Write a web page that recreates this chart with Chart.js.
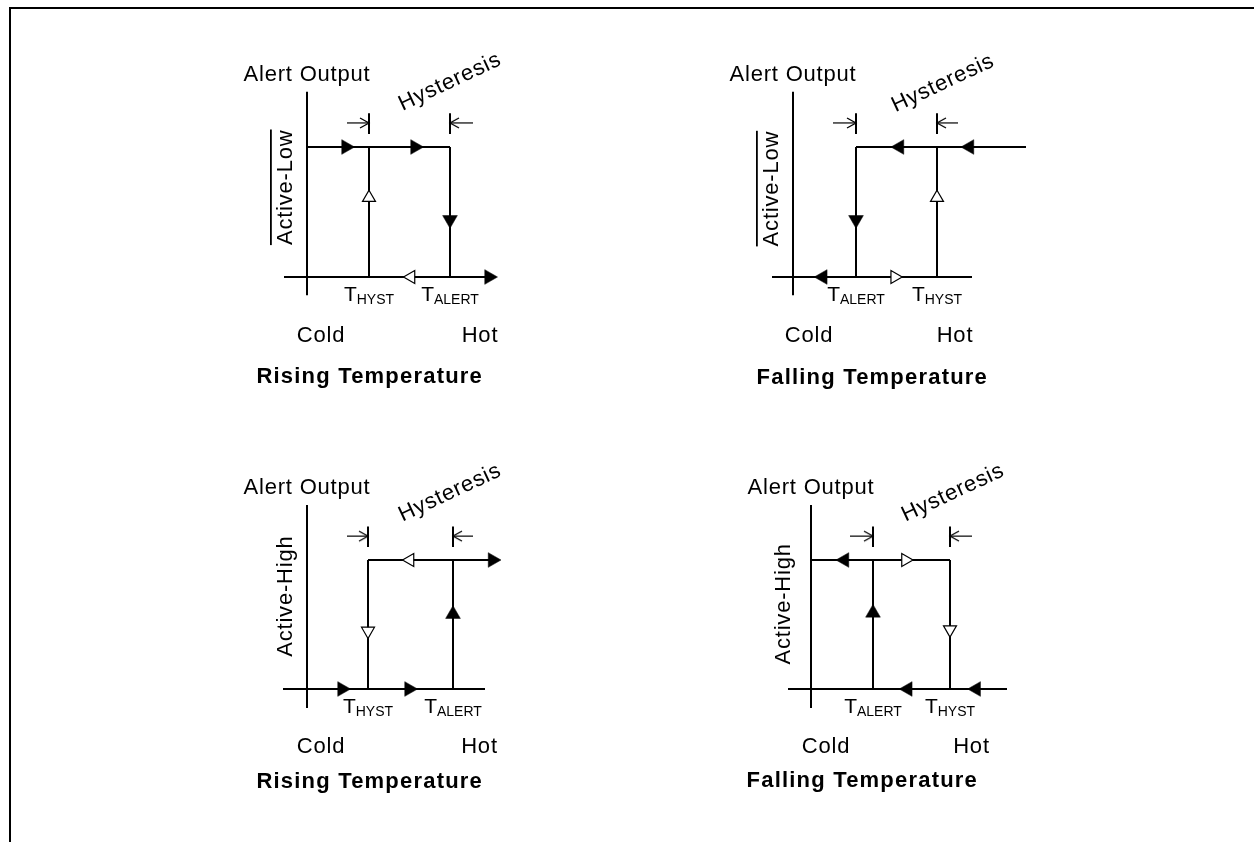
<!DOCTYPE html>
<html>
<head>
<meta charset="utf-8">
<script src="https://cdn.jsdelivr.net/npm/chart.js@4.4.1/dist/chart.umd.min.js"></script>
<style>
  html, body { margin: 0; padding: 0; background: #fff; }
  body { width: 1254px; height: 842px; position: relative; overflow: hidden; }
  #frame { position: absolute; left: 9px; top: 7px; right: -10px; bottom: -10px;
           border-top: 2px solid #000; border-left: 2px solid #000; }
  canvas { position: absolute; }
</style>
</head>
<body>
<div id="frame"></div>
<canvas id="p0"></canvas>
<canvas id="p1"></canvas>
<canvas id="p2"></canvas>
<canvas id="p3"></canvas>
<script>
// temperature axis in arbitrary units, output level 0 = low, 1 = high
const panelTitles = ["Rising Temperature", "Falling Temperature", "Rising Temperature", "Falling Temperature"];
const outputModes = ["Active-Low", "Active-Low", "Active-High", "Active-High"];
const tHyst  = [6.2, 14.4, 6.1, 13.9];
const tAlert = [14.3, 6.3, 14.6, 6.2];
const highFrom = [0, 6.3, 6.1, 0];
const highTo   = [14.3, 23.3, 18.8, 13.9];
const tempAxisFrom = [-2.3, -2.1, -2.4, -2.3];
const tempAxisTo   = [18.6, 17.9, 17.8, 19.6];
const outAxisFrom = [-0.14, -0.14, -0.147, -0.147];
const outAxisTo   = [1.425, 1.425, 1.426, 1.426];
const hystLeftFrom  = [4.0, 4.0, 4.0, 3.9];
const hystRightFrom = [16.6, 16.5, 16.6, 16.1];
const hystTickLevel = [1.10, 1.26];
const hystArrowLevel = 1.185;

// direction markers: [temperature, level, direction, filled]
const arrows = [
  [[3.9, 1, "R", 1], [10.8, 1, "R", 1], [6.2, 0.61, "U", 0], [14.3, 0.44, "D", 1], [10.4, 0, "L", 0], [18.2, 0, "R", 1]],
  [[10.65, 1, "L", 1], [17.65, 1, "L", 1], [6.3, 0.44, "D", 1], [14.4, 0.61, "U", 0], [2.98, 0, "L", 1], [10.17, 0, "R", 0]],
  [[3.5, 0, "R", 1], [10.2, 0, "R", 1], [10.3, 1, "L", 0], [6.1, 0.45, "D", 0], [14.6, 0.58, "U", 1], [18.55, 1, "R", 1]],
  [[3.35, 1, "L", 1], [9.45, 1, "R", 0], [6.2, 0.59, "U", 1], [13.9, 0.46, "D", 0], [9.68, 0, "L", 1], [16.52, 0, "L", 1]]
];

// layout
const origins = [[307, 277], [793, 277], [307, 689], [811, 689]];
const levelPx = [130, 130, 129, 129];
const unitPx = 10;
const padL = 90, padR = 250, padT = 240, padB = 130;
const hystLabelPos = [[14.3, 1.5], [15.0, 1.49], [14.3, 1.52], [14.2, 1.52]];
const modeLabelPos = [[-1.5, 0.69], [-1.5, 0.68], [-1.5, 0.72], [-2.1, 0.66]];
const coldX = [1.4, 1.6, 1.4, 1.5];
const hotX = [17.3, 16.2, 17.25, 16.05];
const coldHotY = [-0.5, -0.5, -0.496, -0.496];
const titleRight = [17.6, 19.5, 17.6, 16.7];
const titleY = [-0.815, -0.823, -0.767, -0.76];

const FAMILY = '"Liberation Sans", Arial, Helvetica, sans-serif';
const rotOf = { R: 90, L: 270, U: 0, D: 180 };

function chevron() {
  const c = document.createElement("canvas");
  c.width = 24; c.height = 24;
  const g = c.getContext("2d");
  g.strokeStyle = "#000";
  g.lineWidth = 1.3;
  g.beginPath();
  g.moveTo(3, 7); g.lineTo(12, 12); g.lineTo(3, 17);
  g.stroke();
  return c;
}
const chevronImg = chevron();

function seg(a, b, w) {
  return {
    data: [a, b], showLine: true, borderColor: "#000", borderWidth: w || 2,
    pointRadius: 0, borderCapStyle: "butt"
  };
}

function textPlugin(items) {
  return {
    id: "panelText",
    afterDatasetsDraw(chart) {
      const ctx = chart.ctx, sx = chart.scales.x, sy = chart.scales.y;
      items.forEach(it => {
        ctx.save();
        ctx.fillStyle = "#000";
        ctx.font = it.font || "22px " + FAMILY;
        ctx.letterSpacing = it.spacing || "0px";
        ctx.textBaseline = it.baseline || "alphabetic";
        ctx.translate(sx.getPixelForValue(it.x), sy.getPixelForValue(it.y));
        if (it.rotate) ctx.rotate(it.rotate * Math.PI / 180);
        if (it.sub) {
          const mainFont = "21px " + FAMILY, subFont = "14px " + FAMILY;
          ctx.font = mainFont;
          const wT = ctx.measureText(it.text).width;
          ctx.font = subFont;
          const wS = ctx.measureText(it.sub).width;
          const start = -(wT + wS) / 2;
          ctx.textAlign = "left";
          ctx.font = mainFont;
          ctx.fillText(it.text, start, 0);
          ctx.font = subFont;
          ctx.fillText(it.sub, start + wT, 3);
        } else {
          ctx.textAlign = it.align || "center";
          ctx.fillText(it.text, 0, 0);
          if (it.overline) {
            const w = ctx.measureText(it.text).width;
            ctx.fillRect(-w / 2, -it.overline - 1, w, 1.8);
          }
        }
        ctx.restore();
      });
    }
  };
}

for (let i = 0; i < 4; i++) {
  const cv = document.getElementById("p" + i);
  const W = padL + padR, H = padT + padB;
  cv.width = W; cv.height = H;
  cv.style.left = (origins[i][0] - padL) + "px";
  cv.style.top = (origins[i][1] - padT) + "px";
  cv.style.width = W + "px"; cv.style.height = H + "px";

  const lo = Math.min(tHyst[i], tAlert[i]), hi = Math.max(tHyst[i], tAlert[i]);
  const marks = arrows[i];

  const datasets = [
    {
      data: marks.map(m => ({ x: m[0], y: m[1] })),
      showLine: false,
      pointStyle: "triangle",
      pointRotation: marks.map(m => rotOf[m[2]]),
      pointRadius: marks.map(m => m[3] ? 8.5 : 7.5),
      pointBackgroundColor: marks.map(m => m[3] ? "#000" : "#fff"),
      pointBorderColor: "#000",
      pointBorderWidth: marks.map(m => m[3] ? 0.5 : 1.2)
    },
    {
      data: [{ x: lo, y: hystArrowLevel }, { x: hi, y: hystArrowLevel }],
      showLine: false,
      pointStyle: chevronImg,
      pointRadius: 4,
      pointRotation: [0, 180]
    },
    seg({ x: hystLeftFrom[i], y: hystArrowLevel }, { x: lo, y: hystArrowLevel }, 1.2),
    seg({ x: hystRightFrom[i], y: hystArrowLevel }, { x: hi, y: hystArrowLevel }, 1.2),
    seg({ x: lo, y: hystTickLevel[0] }, { x: lo, y: hystTickLevel[1] }),
    seg({ x: hi, y: hystTickLevel[0] }, { x: hi, y: hystTickLevel[1] }),
    seg({ x: tempAxisFrom[i], y: 0 }, { x: tempAxisTo[i], y: 0 }),
    seg({ x: 0, y: outAxisFrom[i] }, { x: 0, y: outAxisTo[i] }),
    seg({ x: highFrom[i], y: 1 }, { x: highTo[i], y: 1 }),
    seg({ x: tHyst[i], y: 0 }, { x: tHyst[i], y: 1 }),
    seg({ x: tAlert[i], y: 0 }, { x: tAlert[i], y: 1 })
  ];

  const labels = [
    { text: "Alert Output", x: 0, y: 1.51, spacing: "0.8px" },
    { text: "Hysteresis", x: hystLabelPos[i][0], y: hystLabelPos[i][1], rotate: -25, baseline: "middle", spacing: "0.8px" },
    { text: outputModes[i], x: modeLabelPos[i][0], y: modeLabelPos[i][1], rotate: -90, spacing: "0.8px", overline: i < 2 ? 21 : 0 },
    { text: "T", sub: "HYST", x: tHyst[i], y: -24 / levelPx[i] },
    { text: "T", sub: "ALERT", x: tAlert[i], y: -24 / levelPx[i] },
    { text: "Cold", x: coldX[i], y: coldHotY[i], spacing: "0.8px" },
    { text: "Hot", x: hotX[i], y: coldHotY[i], spacing: "0.8px" },
    { text: panelTitles[i], x: titleRight[i], y: titleY[i], align: "right", font: "bold 22px " + FAMILY, spacing: "1.2px" }
  ];

  new Chart(cv, {
    type: "scatter",
    data: { datasets },
    options: {
      responsive: false,
      animation: false,
      devicePixelRatio: 1,
      events: [],
      layout: { padding: 0, autoPadding: false },
      plugins: { legend: { display: false }, tooltip: { enabled: false } },
      scales: {
        x: { type: "linear", display: false, min: -padL / unitPx, max: padR / unitPx },
        y: { type: "linear", display: false, min: -padB / levelPx[i], max: padT / levelPx[i] }
      }
    },
    plugins: [textPlugin(labels)]
  });
}
</script>
</body>
</html>
